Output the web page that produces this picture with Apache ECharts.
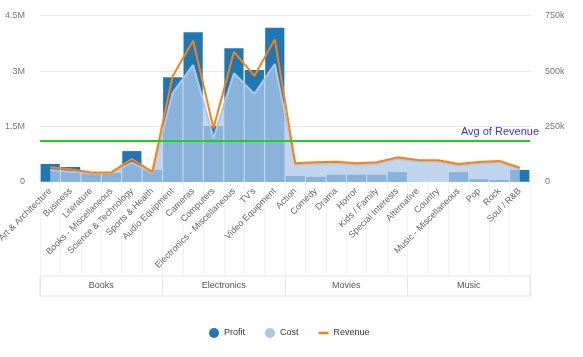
<!DOCTYPE html>
<html>
<head>
<meta charset="utf-8">
<script src="https://cdn.jsdelivr.net/npm/echarts@6/dist/echarts.min.js"></script>
<style>html,body{margin:0;padding:0;background:#fff;}#c{width:583px;height:357px;}</style>
</head>
<body>
<div id="c"></div>
<script>
const categories = ["Art & Architecture","Business","Literature","Books - Miscellaneous","Science & Technology","Sports & Health",
  "Audio Equipment","Cameras","Computers","Electronics - Miscellaneous","TV's","Video Equipment",
  "Action","Comedy","Drama","Horror","Kids / Family","Special Interests",
  "Alternative","Country","Music - Miscellaneous","Pop","Rock","Soul / R&B"];
const groups = ["Books","Electronics","Movies","Music"];
// Profit (left axis, units)
const profit = [480000,400000,230000,240000,830000,320000,
  2830000,4050000,1510000,3620000,3030000,4170000,
  155000,130000,190000,190000,190000,260000,
  0,0,260000,70000,46000,320000];
// Cost (left axis, units)
const cost = [320000,270000,230000,235000,520000,230000,
  2410000,3160000,1180000,2940000,2380000,3190000,
  460000,485000,500000,460000,485000,620000,
  550000,540000,440000,490000,520000,340000];
// Revenue (right axis, units)
const revenue = [65000,56000,42000,42000,103000,43000,
  478000,637000,241000,587000,478000,643000,
  83000,88000,90000,83000,88000,110000,
  98000,97000,80000,89000,94000,63000];
const leftTicks = {min:0, max:4500000, interval:1500000};
const rightTicks = {min:0, max:750000, interval:250000};

const chart = echarts.init(document.getElementById('c'), null, {renderer:'canvas'});
const ff = 'Liberation Sans, Arial, sans-serif';
chart.setOption({
  animation:false,
  textStyle:{fontFamily:ff},
  legend:{
    left:204, top:323, itemWidth:10, itemHeight:10, itemGap:20,
    textStyle:{fontSize:9, color:'#333', fontFamily:ff},
    data:[{name:'Profit',icon:'circle'},{name:'Cost',icon:'circle'},
          {name:'Revenue',icon:'path://M0,0H10V2.4H0Z'}]
  },
  grid:[
    {left:40, right:53, top:15.7, bottom:175.3, containLabel:false, outerBoundsMode:'none'},
    {left:40, right:53, top:276, height:20, show:true, borderColor:'#e6e6e6', borderWidth:1, outerBoundsMode:'none'}
  ],
  xAxis:[
    {type:'category', gridIndex:0, data:categories, boundaryGap:true,
     axisLine:{lineStyle:{color:'#e6e6e6'}},
     axisTick:{show:true, interval:0, length:94, lineStyle:{color:'#f2f2f2'}},
     axisLabel:{interval:0, rotate:45, fontSize:9, color:'#666', margin:8, fontFamily:ff}},
    {type:'category', gridIndex:1, data:groups, boundaryGap:true,
     axisLine:{show:false}, axisTick:{show:false},
     splitLine:{show:true, interval:0, lineStyle:{color:'#e6e6e6'}},
     axisLabel:{interval:0, fontSize:9, color:'#555', margin:-15, fontFamily:ff}}
  ],
  yAxis:[
    {type:'value', gridIndex:0, min:leftTicks.min, max:leftTicks.max, interval:leftTicks.interval,
     axisLine:{show:false}, axisTick:{show:false},
     splitLine:{lineStyle:{color:'#e6e6e6'}},
     axisLabel:{fontSize:9, color:'#777', margin:15, fontFamily:ff,
       formatter:v=> v===0?'0':(v/1e6)+'M'}},
    {type:'value', gridIndex:0, position:'right', min:rightTicks.min, max:rightTicks.max, interval:rightTicks.interval,
     axisLine:{show:false}, axisTick:{show:false}, splitLine:{show:false},
     axisLabel:{fontSize:9, color:'#777', margin:15, fontFamily:ff,
       formatter:v=> v===0?'0':(v/1000)+'k'}},
    {type:'value', gridIndex:1, show:false}
  ],
  series:[
    {name:'Profit', type:'bar', xAxisIndex:0, yAxisIndex:0, data:profit,
     barCategoryGap:'6%', itemStyle:{color:'#1f77b4'}, z:1},
    {name:'Cost', type:'line', xAxisIndex:0, yAxisIndex:0, data:cost,
     symbol:'none', lineStyle:{color:'#aec7e8', width:2},
     itemStyle:{color:'#aec7e8'},
     areaStyle:{color:'#aec7e8', opacity:0.75}, z:2},
    {name:'Revenue', type:'line', xAxisIndex:0, yAxisIndex:1, data:revenue,
     symbol:'none', lineStyle:{color:'#ff7f0e', width:2}, itemStyle:{color:'#ff7f0e'}, z:3,
     markLine:{silent:true, symbol:'none',
       lineStyle:{color:'#22cc22', width:2, type:'solid'},
       label:{show:true, position:'insideEndTop', formatter:'Avg of Revenue', color:'#3333ff', fontSize:11, fontFamily:ff, distance:[-9, 3]},
       data:[{type:'average', name:'Avg of Revenue'}]}}
  ]
});
</script>
</body>
</html>
